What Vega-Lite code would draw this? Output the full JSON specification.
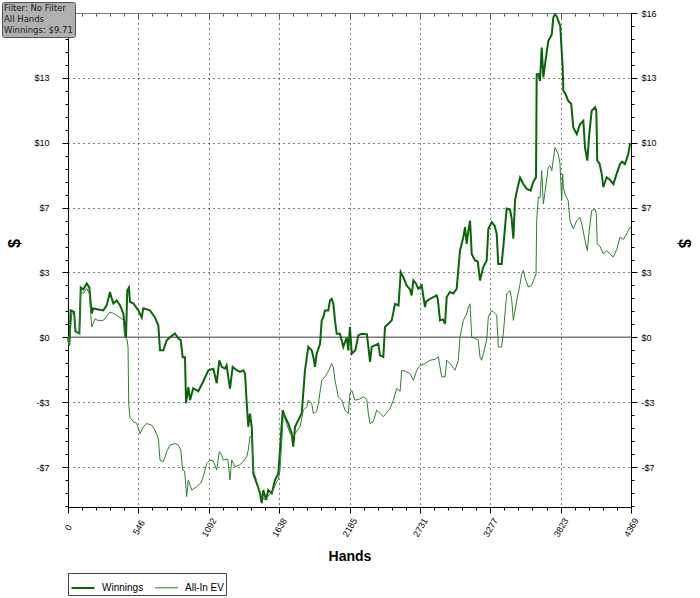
{
  "$schema": "https://vega.github.io/schema/vega-lite/v6.json",
  "width": 563,
  "height": 494,
  "autosize": {"type": "none"},
  "padding": {"left": 68, "top": 13, "right": 69, "bottom": 91},
  "background": "white",
  "config": {"view": {"stroke": "#000", "strokeWidth": 1}, "font": "Liberation Sans"},
  "resolve": {"axis": {"x": "independent", "y": "independent"}, "scale": {"x": "shared", "y": "shared"}},
  "layer": [
    {
      "data": {"values": [{"zero": 0, "start": 0, "end": 4369}]},
      "mark": {"type": "rule", "color": "#7a7a7a", "strokeWidth": 1.5},
      "encoding": {
        "x": {"field": "start", "type": "quantitative", "scale": {"domain": [0, 4369], "nice": false, "zero": false},
          "axis": {"orient": "top", "title": null, "labels": false, "grid": false,
            "values": [0,109.225,218.45,327.675,436.9,546.125,655.35,764.575,873.8,983.025,1092.25,1201.475,1310.7,1419.925,1529.15,1638.375,1747.6,1856.825,1966.05,2075.275,2184.5,2293.725,2402.95,2512.175,2621.4,2730.625,2839.85,2949.075,3058.3,3167.525,3276.75,3385.975,3495.2,3604.425,3713.65,3822.875,3932.1,4041.325,4150.55,4259.775,4369],
            "domainColor": "#777", "tickColor": "#555",
            "tickSize": {"condition": {"test": "abs(datum.value/546.125 - round(datum.value/546.125)) < 0.01", "value": -5}, "value": -3}}},
        "x2": {"field": "end"},
        "y": {"field": "zero", "type": "quantitative", "scale": {"domain": [-8.5, 16.25], "nice": false, "zero": false},
          "axis": {"orient": "right", "title": "$", "titleFontSize": 16, "titleFontWeight": "bold", "titleColor": "#000", "titleX": 44, "titleY": 230, "titleAngle": 90,
            "values": [-8.45,-7.8,-7.15,-6.5,-5.85,-5.2,-4.55,-3.9,-3.25,-2.6,-1.95,-1.3,-0.65,0,0.65,1.3,1.95,2.6,3.25,3.9,4.55,5.2,5.85,6.5,7.15,7.8,8.45,9.1,9.75,10.4,11.05,11.7,12.35,13,13.65,14.3,14.95,15.6,16.25],
            "labelExpr": "abs(datum.value/3.25 - round(datum.value/3.25)) < 0.01 ? (datum.value < -0.001 ? '-$' : '$') + round(abs(datum.value)) : ''",
            "labelFontSize": 9, "labelColor": "#000", "labelPadding": 4, "labelOverlap": false, "labelBound": false,
            "grid": false, "domainColor": "#000", "tickColor": "#000",
            "tickSize": {"condition": {"test": "abs(datum.value/3.25 - round(datum.value/3.25)) < 0.01", "value": 6}, "value": 3}}}
      }
    },
    {
      "data": {"values": [
        {"hand":0,"series":"Winnings","value":0.0},{"hand":10,"series":"Winnings","value":-0.4},{"hand":21,"series":"Winnings","value":1.35},{"hand":47,"series":"Winnings","value":1.27},{"hand":58,"series":"Winnings","value":0.3},{"hand":88,"series":"Winnings","value":0.2},{"hand":99,"series":"Winnings","value":2.5},{"hand":119,"series":"Winnings","value":2.4},{"hand":145,"series":"Winnings","value":2.7},{"hand":165,"series":"Winnings","value":2.5},{"hand":184,"series":"Winnings","value":1.2},{"hand":196,"series":"Winnings","value":1.45},{"hand":274,"series":"Winnings","value":1.35},{"hand":300,"series":"Winnings","value":1.6},{"hand":326,"series":"Winnings","value":2.27},{"hand":339,"series":"Winnings","value":1.95},{"hand":352,"series":"Winnings","value":1.7},{"hand":378,"series":"Winnings","value":1.85},{"hand":404,"series":"Winnings","value":1.6},{"hand":429,"series":"Winnings","value":1.2},{"hand":450,"series":"Winnings","value":0.02},{"hand":460,"series":"Winnings","value":2.35},{"hand":473,"series":"Winnings","value":2.5},{"hand":481,"series":"Winnings","value":1.77},{"hand":507,"series":"Winnings","value":1.7},{"hand":546,"series":"Winnings","value":1.35},{"hand":572,"series":"Winnings","value":1.0},{"hand":584,"series":"Winnings","value":1.45},{"hand":636,"series":"Winnings","value":1.35},{"hand":675,"series":"Winnings","value":1.0},{"hand":701,"series":"Winnings","value":0.6},{"hand":714,"series":"Winnings","value":-0.65},{"hand":740,"series":"Winnings","value":-0.65},{"hand":766,"series":"Winnings","value":-0.15},{"hand":791,"series":"Winnings","value":0.0},{"hand":830,"series":"Winnings","value":0.2},{"hand":856,"series":"Winnings","value":-0.05},{"hand":875,"series":"Winnings","value":-0.15},{"hand":890,"series":"Winnings","value":-1.0},{"hand":908,"series":"Winnings","value":-1.0},{"hand":916,"series":"Winnings","value":-3.3},{"hand":934,"series":"Winnings","value":-2.5},{"hand":947,"series":"Winnings","value":-3.15},{"hand":972,"series":"Winnings","value":-2.55},{"hand":1011,"series":"Winnings","value":-2.7},{"hand":1050,"series":"Winnings","value":-2.2},{"hand":1089,"series":"Winnings","value":-1.65},{"hand":1128,"series":"Winnings","value":-1.57},{"hand":1154,"series":"Winnings","value":-2.3},{"hand":1174,"series":"Winnings","value":-1.15},{"hand":1193,"series":"Winnings","value":-1.48},{"hand":1218,"series":"Winnings","value":-1.57},{"hand":1231,"series":"Winnings","value":-1.4},{"hand":1257,"series":"Winnings","value":-2.57},{"hand":1278,"series":"Winnings","value":-1.48},{"hand":1309,"series":"Winnings","value":-1.65},{"hand":1335,"series":"Winnings","value":-1.73},{"hand":1360,"series":"Winnings","value":-1.65},{"hand":1374,"series":"Winnings","value":-1.82},{"hand":1387,"series":"Winnings","value":-3.3},{"hand":1399,"series":"Winnings","value":-4.48},{"hand":1412,"series":"Winnings","value":-3.82},{"hand":1426,"series":"Winnings","value":-4.48},{"hand":1438,"series":"Winnings","value":-6.82},{"hand":1464,"series":"Winnings","value":-7.3},{"hand":1490,"series":"Winnings","value":-7.82},{"hand":1503,"series":"Winnings","value":-8.3},{"hand":1516,"series":"Winnings","value":-7.65},{"hand":1537,"series":"Winnings","value":-8.15},{"hand":1554,"series":"Winnings","value":-7.65},{"hand":1581,"series":"Winnings","value":-7.82},{"hand":1606,"series":"Winnings","value":-7.15},{"hand":1632,"series":"Winnings","value":-6.82},{"hand":1645,"series":"Winnings","value":-5.65},{"hand":1666,"series":"Winnings","value":-3.65},{"hand":1684,"series":"Winnings","value":-3.98},{"hand":1710,"series":"Winnings","value":-4.32},{"hand":1736,"series":"Winnings","value":-4.82},{"hand":1748,"series":"Winnings","value":-5.48},{"hand":1762,"series":"Winnings","value":-4.48},{"hand":1787,"series":"Winnings","value":-4.15},{"hand":1814,"series":"Winnings","value":-3.8},{"hand":1839,"series":"Winnings","value":-1.65},{"hand":1865,"series":"Winnings","value":-0.48},{"hand":1891,"series":"Winnings","value":-0.65},{"hand":1904,"series":"Winnings","value":-0.98},{"hand":1917,"series":"Winnings","value":-1.48},{"hand":1930,"series":"Winnings","value":-0.82},{"hand":1956,"series":"Winnings","value":-0.32},{"hand":1969,"series":"Winnings","value":0.85},{"hand":1981,"series":"Winnings","value":1.0},{"hand":1994,"series":"Winnings","value":1.35},{"hand":2020,"series":"Winnings","value":1.35},{"hand":2033,"series":"Winnings","value":1.85},{"hand":2046,"series":"Winnings","value":1.93},{"hand":2059,"series":"Winnings","value":1.68},{"hand":2072,"series":"Winnings","value":0.85},{"hand":2085,"series":"Winnings","value":0.18},{"hand":2110,"series":"Winnings","value":0.18},{"hand":2124,"series":"Winnings","value":-0.15},{"hand":2136,"series":"Winnings","value":-0.48},{"hand":2163,"series":"Winnings","value":0.0},{"hand":2175,"series":"Winnings","value":-0.65},{"hand":2188,"series":"Winnings","value":0.52},{"hand":2202,"series":"Winnings","value":-0.82},{"hand":2230,"series":"Winnings","value":-0.65},{"hand":2253,"series":"Winnings","value":0.1},{"hand":2279,"series":"Winnings","value":0.18},{"hand":2320,"series":"Winnings","value":0.15},{"hand":2344,"series":"Winnings","value":-1.23},{"hand":2357,"series":"Winnings","value":-0.48},{"hand":2408,"series":"Winnings","value":-0.32},{"hand":2421,"series":"Winnings","value":-0.9},{"hand":2447,"series":"Winnings","value":-0.98},{"hand":2460,"series":"Winnings","value":0.52},{"hand":2512,"series":"Winnings","value":0.85},{"hand":2538,"series":"Winnings","value":1.68},{"hand":2565,"series":"Winnings","value":1.6},{"hand":2582,"series":"Winnings","value":3.27},{"hand":2602,"series":"Winnings","value":3.02},{"hand":2628,"series":"Winnings","value":2.6},{"hand":2654,"series":"Winnings","value":2.4},{"hand":2667,"series":"Winnings","value":2.1},{"hand":2680,"series":"Winnings","value":2.85},{"hand":2700,"series":"Winnings","value":2.7},{"hand":2718,"series":"Winnings","value":2.43},{"hand":2745,"series":"Winnings","value":2.6},{"hand":2770,"series":"Winnings","value":1.52},{"hand":2780,"series":"Winnings","value":1.8},{"hand":2809,"series":"Winnings","value":1.93},{"hand":2861,"series":"Winnings","value":2.1},{"hand":2870,"series":"Winnings","value":1.9},{"hand":2887,"series":"Winnings","value":0.85},{"hand":2910,"series":"Winnings","value":0.9},{"hand":2926,"series":"Winnings","value":0.68},{"hand":2939,"series":"Winnings","value":2.02},{"hand":2964,"series":"Winnings","value":2.27},{"hand":2990,"series":"Winnings","value":2.2},{"hand":3016,"series":"Winnings","value":2.43},{"hand":3042,"series":"Winnings","value":4.35},{"hand":3068,"series":"Winnings","value":5.02},{"hand":3081,"series":"Winnings","value":5.52},{"hand":3094,"series":"Winnings","value":4.68},{"hand":3107,"series":"Winnings","value":5.35},{"hand":3120,"series":"Winnings","value":5.85},{"hand":3133,"series":"Winnings","value":4.18},{"hand":3158,"series":"Winnings","value":3.85},{"hand":3180,"series":"Winnings","value":3.8},{"hand":3197,"series":"Winnings","value":2.85},{"hand":3210,"series":"Winnings","value":3.2},{"hand":3223,"series":"Winnings","value":3.52},{"hand":3249,"series":"Winnings","value":3.85},{"hand":3262,"series":"Winnings","value":5.43},{"hand":3288,"series":"Winnings","value":5.77},{"hand":3310,"series":"Winnings","value":5.6},{"hand":3327,"series":"Winnings","value":5.18},{"hand":3339,"series":"Winnings","value":3.68},{"hand":3365,"series":"Winnings","value":3.68},{"hand":3378,"series":"Winnings","value":4.52},{"hand":3404,"series":"Winnings","value":6.45},{"hand":3430,"series":"Winnings","value":6.4},{"hand":3443,"series":"Winnings","value":5.95},{"hand":3456,"series":"Winnings","value":4.95},{"hand":3469,"series":"Winnings","value":6.85},{"hand":3482,"series":"Winnings","value":7.3},{"hand":3508,"series":"Winnings","value":8.0},{"hand":3534,"series":"Winnings","value":7.68},{"hand":3560,"series":"Winnings","value":7.43},{"hand":3590,"series":"Winnings","value":7.35},{"hand":3610,"series":"Winnings","value":7.77},{"hand":3632,"series":"Winnings","value":8.02},{"hand":3637,"series":"Winnings","value":13.18},{"hand":3650,"series":"Winnings","value":13.2},{"hand":3663,"series":"Winnings","value":12.85},{"hand":3676,"series":"Winnings","value":14.52},{"hand":3689,"series":"Winnings","value":13.02},{"hand":3700,"series":"Winnings","value":13.6},{"hand":3727,"series":"Winnings","value":14.85},{"hand":3754,"series":"Winnings","value":15.18},{"hand":3766,"series":"Winnings","value":16.02},{"hand":3779,"series":"Winnings","value":16.18},{"hand":3792,"series":"Winnings","value":16.1},{"hand":3805,"series":"Winnings","value":15.85},{"hand":3820,"series":"Winnings","value":15.6},{"hand":3831,"series":"Winnings","value":14.35},{"hand":3839,"series":"Winnings","value":13.52},{"hand":3844,"series":"Winnings","value":12.35},{"hand":3860,"series":"Winnings","value":12.2},{"hand":3882,"series":"Winnings","value":11.85},{"hand":3905,"series":"Winnings","value":11.7},{"hand":3921,"series":"Winnings","value":10.52},{"hand":3948,"series":"Winnings","value":10.18},{"hand":3973,"series":"Winnings","value":10.68},{"hand":3999,"series":"Winnings","value":10.85},{"hand":4012,"series":"Winnings","value":9.52},{"hand":4030,"series":"Winnings","value":8.85},{"hand":4045,"series":"Winnings","value":10.18},{"hand":4064,"series":"Winnings","value":11.35},{"hand":4090,"series":"Winnings","value":11.52},{"hand":4100,"series":"Winnings","value":11.35},{"hand":4107,"series":"Winnings","value":8.85},{"hand":4125,"series":"Winnings","value":8.7},{"hand":4142,"series":"Winnings","value":8.18},{"hand":4154,"series":"Winnings","value":7.52},{"hand":4180,"series":"Winnings","value":8.02},{"hand":4205,"series":"Winnings","value":7.9},{"hand":4232,"series":"Winnings","value":7.68},{"hand":4258,"series":"Winnings","value":8.2},{"hand":4284,"series":"Winnings","value":8.68},{"hand":4300,"series":"Winnings","value":8.8},{"hand":4322,"series":"Winnings","value":8.68},{"hand":4348,"series":"Winnings","value":9.18},{"hand":4361,"series":"Winnings","value":9.68},{"hand":4369,"series":"Winnings","value":9.71},
        {"hand":0,"series":"All-In EV","value":0.0},{"hand":10,"series":"All-In EV","value":-0.4},{"hand":29,"series":"All-In EV","value":1.2},{"hand":47,"series":"All-In EV","value":1.2},{"hand":62,"series":"All-In EV","value":0.3},{"hand":88,"series":"All-In EV","value":0.2},{"hand":99,"series":"All-In EV","value":2.3},{"hand":119,"series":"All-In EV","value":2.2},{"hand":145,"series":"All-In EV","value":2.45},{"hand":165,"series":"All-In EV","value":2.2},{"hand":184,"series":"All-In EV","value":0.52},{"hand":210,"series":"All-In EV","value":0.93},{"hand":230,"series":"All-In EV","value":0.85},{"hand":274,"series":"All-In EV","value":0.85},{"hand":326,"series":"All-In EV","value":1.27},{"hand":352,"series":"All-In EV","value":1.2},{"hand":378,"series":"All-In EV","value":1.1},{"hand":404,"series":"All-In EV","value":1.0},{"hand":430,"series":"All-In EV","value":0.85},{"hand":440,"series":"All-In EV","value":0.0},{"hand":458,"series":"All-In EV","value":-0.1},{"hand":466,"series":"All-In EV","value":-0.48},{"hand":471,"series":"All-In EV","value":-3.3},{"hand":481,"series":"All-In EV","value":-4.0},{"hand":507,"series":"All-In EV","value":-4.23},{"hand":532,"series":"All-In EV","value":-4.3},{"hand":559,"series":"All-In EV","value":-4.82},{"hand":584,"series":"All-In EV","value":-4.48},{"hand":610,"series":"All-In EV","value":-4.32},{"hand":650,"series":"All-In EV","value":-4.4},{"hand":675,"series":"All-In EV","value":-4.65},{"hand":701,"series":"All-In EV","value":-5.07},{"hand":714,"series":"All-In EV","value":-6.15},{"hand":740,"series":"All-In EV","value":-6.23},{"hand":766,"series":"All-In EV","value":-5.73},{"hand":791,"series":"All-In EV","value":-5.4},{"hand":830,"series":"All-In EV","value":-5.32},{"hand":856,"series":"All-In EV","value":-5.4},{"hand":875,"series":"All-In EV","value":-5.65},{"hand":890,"series":"All-In EV","value":-6.65},{"hand":905,"series":"All-In EV","value":-6.7},{"hand":921,"series":"All-In EV","value":-7.98},{"hand":934,"series":"All-In EV","value":-7.15},{"hand":960,"series":"All-In EV","value":-7.65},{"hand":998,"series":"All-In EV","value":-7.48},{"hand":1030,"series":"All-In EV","value":-7.3},{"hand":1050,"series":"All-In EV","value":-6.98},{"hand":1076,"series":"All-In EV","value":-6.32},{"hand":1102,"series":"All-In EV","value":-6.15},{"hand":1128,"series":"All-In EV","value":-6.2},{"hand":1154,"series":"All-In EV","value":-6.65},{"hand":1174,"series":"All-In EV","value":-5.73},{"hand":1193,"series":"All-In EV","value":-5.9},{"hand":1205,"series":"All-In EV","value":-6.15},{"hand":1240,"series":"All-In EV","value":-6.1},{"hand":1257,"series":"All-In EV","value":-7.15},{"hand":1270,"series":"All-In EV","value":-6.15},{"hand":1296,"series":"All-In EV","value":-6.48},{"hand":1330,"series":"All-In EV","value":-6.4},{"hand":1360,"series":"All-In EV","value":-6.23},{"hand":1387,"series":"All-In EV","value":-5.98},{"hand":1399,"series":"All-In EV","value":-5.65},{"hand":1412,"series":"All-In EV","value":-4.98},{"hand":1426,"series":"All-In EV","value":-5.0},{"hand":1438,"series":"All-In EV","value":-6.65},{"hand":1477,"series":"All-In EV","value":-7.48},{"hand":1503,"series":"All-In EV","value":-7.98},{"hand":1529,"series":"All-In EV","value":-8.15},{"hand":1560,"series":"All-In EV","value":-7.9},{"hand":1593,"series":"All-In EV","value":-7.65},{"hand":1619,"series":"All-In EV","value":-7.23},{"hand":1632,"series":"All-In EV","value":-7.1},{"hand":1645,"series":"All-In EV","value":-6.65},{"hand":1658,"series":"All-In EV","value":-5.32},{"hand":1671,"series":"All-In EV","value":-3.82},{"hand":1697,"series":"All-In EV","value":-4.32},{"hand":1723,"series":"All-In EV","value":-4.82},{"hand":1748,"series":"All-In EV","value":-4.98},{"hand":1775,"series":"All-In EV","value":-4.7},{"hand":1800,"series":"All-In EV","value":-4.5},{"hand":1826,"series":"All-In EV","value":-3.65},{"hand":1852,"series":"All-In EV","value":-3.48},{"hand":1865,"series":"All-In EV","value":-3.15},{"hand":1891,"series":"All-In EV","value":-3.3},{"hand":1904,"series":"All-In EV","value":-3.82},{"hand":1930,"series":"All-In EV","value":-3.7},{"hand":1943,"series":"All-In EV","value":-3.32},{"hand":1969,"series":"All-In EV","value":-2.15},{"hand":1994,"series":"All-In EV","value":-1.98},{"hand":2020,"series":"All-In EV","value":-1.7},{"hand":2046,"series":"All-In EV","value":-1.32},{"hand":2059,"series":"All-In EV","value":-1.5},{"hand":2072,"series":"All-In EV","value":-2.15},{"hand":2098,"series":"All-In EV","value":-2.98},{"hand":2124,"series":"All-In EV","value":-3.15},{"hand":2150,"series":"All-In EV","value":-3.65},{"hand":2175,"series":"All-In EV","value":-3.82},{"hand":2188,"series":"All-In EV","value":-2.82},{"hand":2202,"series":"All-In EV","value":-2.65},{"hand":2227,"series":"All-In EV","value":-3.15},{"hand":2260,"series":"All-In EV","value":-3.1},{"hand":2292,"series":"All-In EV","value":-2.98},{"hand":2318,"series":"All-In EV","value":-3.1},{"hand":2331,"series":"All-In EV","value":-3.82},{"hand":2344,"series":"All-In EV","value":-4.32},{"hand":2370,"series":"All-In EV","value":-4.2},{"hand":2395,"series":"All-In EV","value":-3.65},{"hand":2421,"series":"All-In EV","value":-3.8},{"hand":2447,"series":"All-In EV","value":-3.98},{"hand":2470,"series":"All-In EV","value":-3.8},{"hand":2499,"series":"All-In EV","value":-3.57},{"hand":2525,"series":"All-In EV","value":-3.15},{"hand":2551,"series":"All-In EV","value":-2.57},{"hand":2577,"series":"All-In EV","value":-2.7},{"hand":2590,"series":"All-In EV","value":-1.65},{"hand":2620,"series":"All-In EV","value":-1.7},{"hand":2654,"series":"All-In EV","value":-1.82},{"hand":2680,"series":"All-In EV","value":-2.15},{"hand":2706,"series":"All-In EV","value":-1.65},{"hand":2732,"series":"All-In EV","value":-1.4},{"hand":2770,"series":"All-In EV","value":-1.32},{"hand":2809,"series":"All-In EV","value":-1.15},{"hand":2848,"series":"All-In EV","value":-1.1},{"hand":2874,"series":"All-In EV","value":-0.98},{"hand":2900,"series":"All-In EV","value":-1.98},{"hand":2926,"series":"All-In EV","value":-1.98},{"hand":2939,"series":"All-In EV","value":-1.15},{"hand":2964,"series":"All-In EV","value":-1.3},{"hand":3003,"series":"All-In EV","value":-1.65},{"hand":3029,"series":"All-In EV","value":-1.15},{"hand":3042,"series":"All-In EV","value":0.0},{"hand":3068,"series":"All-In EV","value":0.85},{"hand":3094,"series":"All-In EV","value":1.18},{"hand":3107,"series":"All-In EV","value":1.52},{"hand":3120,"series":"All-In EV","value":1.68},{"hand":3133,"series":"All-In EV","value":0.0},{"hand":3158,"series":"All-In EV","value":-0.05},{"hand":3184,"series":"All-In EV","value":-0.15},{"hand":3197,"series":"All-In EV","value":-0.98},{"hand":3210,"series":"All-In EV","value":-1.15},{"hand":3236,"series":"All-In EV","value":-0.48},{"hand":3249,"series":"All-In EV","value":-0.15},{"hand":3262,"series":"All-In EV","value":1.02},{"hand":3288,"series":"All-In EV","value":1.35},{"hand":3314,"series":"All-In EV","value":1.2},{"hand":3327,"series":"All-In EV","value":1.1},{"hand":3339,"series":"All-In EV","value":-0.48},{"hand":3365,"series":"All-In EV","value":-0.48},{"hand":3378,"series":"All-In EV","value":0.18},{"hand":3404,"series":"All-In EV","value":2.18},{"hand":3430,"series":"All-In EV","value":2.35},{"hand":3443,"series":"All-In EV","value":1.9},{"hand":3456,"series":"All-In EV","value":0.85},{"hand":3482,"series":"All-In EV","value":1.85},{"hand":3508,"series":"All-In EV","value":2.68},{"hand":3521,"series":"All-In EV","value":3.18},{"hand":3534,"series":"All-In EV","value":3.35},{"hand":3546,"series":"All-In EV","value":3.0},{"hand":3572,"series":"All-In EV","value":2.52},{"hand":3598,"series":"All-In EV","value":2.6},{"hand":3632,"series":"All-In EV","value":3.18},{"hand":3637,"series":"All-In EV","value":5.85},{"hand":3650,"series":"All-In EV","value":7.02},{"hand":3663,"series":"All-In EV","value":7.0},{"hand":3676,"series":"All-In EV","value":8.35},{"hand":3689,"series":"All-In EV","value":6.68},{"hand":3700,"series":"All-In EV","value":7.2},{"hand":3727,"series":"All-In EV","value":8.52},{"hand":3740,"series":"All-In EV","value":8.6},{"hand":3754,"series":"All-In EV","value":8.35},{"hand":3779,"series":"All-In EV","value":9.52},{"hand":3805,"series":"All-In EV","value":9.18},{"hand":3818,"series":"All-In EV","value":8.7},{"hand":3831,"series":"All-In EV","value":6.85},{"hand":3839,"series":"All-In EV","value":8.18},{"hand":3844,"series":"All-In EV","value":7.52},{"hand":3857,"series":"All-In EV","value":7.18},{"hand":3882,"series":"All-In EV","value":6.85},{"hand":3895,"series":"All-In EV","value":5.85},{"hand":3921,"series":"All-In EV","value":5.43},{"hand":3948,"series":"All-In EV","value":5.85},{"hand":3973,"series":"All-In EV","value":6.02},{"hand":3990,"series":"All-In EV","value":5.6},{"hand":4012,"series":"All-In EV","value":4.85},{"hand":4030,"series":"All-In EV","value":4.35},{"hand":4045,"series":"All-In EV","value":5.35},{"hand":4064,"series":"All-In EV","value":6.35},{"hand":4090,"series":"All-In EV","value":6.43},{"hand":4100,"series":"All-In EV","value":6.2},{"hand":4107,"series":"All-In EV","value":4.68},{"hand":4125,"series":"All-In EV","value":4.6},{"hand":4154,"series":"All-In EV","value":4.18},{"hand":4180,"series":"All-In EV","value":4.35},{"hand":4205,"series":"All-In EV","value":4.18},{"hand":4232,"series":"All-In EV","value":4.02},{"hand":4258,"series":"All-In EV","value":4.4},{"hand":4284,"series":"All-In EV","value":5.02},{"hand":4310,"series":"All-In EV","value":4.9},{"hand":4335,"series":"All-In EV","value":5.18},{"hand":4361,"series":"All-In EV","value":5.52},{"hand":4369,"series":"All-In EV","value":5.45}
      ]},
      "mark": {"type": "line", "interpolate": "linear"},
      "encoding": {
        "x": {"field": "hand", "type": "quantitative",
          "axis": {"orient": "bottom", "title": "Hands", "titleFontSize": 14, "titleFontWeight": "bold", "titleColor": "#000", "titleY": 49, "titleBaseline": "middle",
            "values": [0,109.225,218.45,327.675,436.9,546.125,655.35,764.575,873.8,983.025,1092.25,1201.475,1310.7,1419.925,1529.15,1638.375,1747.6,1856.825,1966.05,2075.275,2184.5,2293.725,2402.95,2512.175,2621.4,2730.625,2839.85,2949.075,3058.3,3167.525,3276.75,3385.975,3495.2,3604.425,3713.65,3822.875,3932.1,4041.325,4150.55,4259.775,4369],
            "labelExpr": "abs(datum.value/546.125 - round(datum.value/546.125)) < 0.01 ? '' + round(datum.value) : ''",
            "labelAngle": -60, "labelAlign": "center", "labelBaseline": "middle", "labelPadding": 14, "labelFontSize": 9, "labelColor": "#000", "labelOverlap": false, "labelBound": false, "labelFlush": false,
            "domainColor": "#000", "tickColor": "#000",
            "tickSize": {"condition": {"test": "abs(datum.value/546.125 - round(datum.value/546.125)) < 0.01", "value": 6}, "value": 3},
            "grid": true, "gridColor": "#000", "gridDash": [1, 4],
            "gridOpacity": {"condition": {"test": "abs(datum.value/546.125 - round(datum.value/546.125)) < 0.01 && datum.value > 1 && datum.value < 4368", "value": 1}, "value": 0}}},
        "y": {"field": "value", "type": "quantitative",
          "axis": {"orient": "left", "title": "$", "titleFontSize": 16, "titleFontWeight": "bold", "titleColor": "#000", "titleX": -46, "titleY": 230,
            "values": [-8.45,-7.8,-7.15,-6.5,-5.85,-5.2,-4.55,-3.9,-3.25,-2.6,-1.95,-1.3,-0.65,0,0.65,1.3,1.95,2.6,3.25,3.9,4.55,5.2,5.85,6.5,7.15,7.8,8.45,9.1,9.75,10.4,11.05,11.7,12.35,13,13.65,14.3,14.95,15.6,16.25],
            "labelExpr": "abs(datum.value/3.25 - round(datum.value/3.25)) < 0.01 && datum.value < 16 ? (datum.value < -0.001 ? '-$' : '$') + round(abs(datum.value)) : ''",
            "labelFontSize": 9, "labelColor": "#000", "labelPadding": 13, "labelOverlap": false, "labelBound": false,
            "domainColor": "#000", "tickColor": "#000",
            "tickSize": {"condition": {"test": "abs(datum.value/3.25 - round(datum.value/3.25)) < 0.01", "value": 6}, "value": 3},
            "grid": true, "gridColor": "#000", "gridDash": [1, 4],
            "gridOpacity": {"condition": {"test": "abs(datum.value/3.25 - round(datum.value/3.25)) < 0.01 && abs(datum.value) > 0.01 && datum.value < 16", "value": 1}, "value": 0}}},
        "color": {"field": "series", "type": "nominal",
          "scale": {"domain": ["Winnings", "All-In EV"], "range": ["#0a650a", "#2e7f2e"]},
          "legend": {"orient": "none", "legendX": 0, "legendY": 560, "direction": "horizontal", "title": null,
            "symbolType": "stroke", "symbolSize": 530, "labelFontSize": 10, "labelColor": "#000",
            "padding": 2, "strokeColor": "#444", "fillColor": "#fff", "columnPadding": 8, "labelOffset": 6}},
        "strokeWidth": {"field": "series", "type": "nominal",
          "scale": {"domain": ["Winnings", "All-In EV"], "range": [2, 1]}}
      }
    },
    {
      "data": {"values": [{"info": "summary"}]},
      "mark": {"type": "point", "opacity": 0},
      "encoding": {
        "fill": {"field": "info", "type": "nominal",
          "scale": {"range": ["#b0b0b0"]},
          "legend": {"orient": "none", "legendX": -66, "legendY": -11,
            "title": ["Filter: No Filter", "All Hands", "Winnings: $9.71"],
            "titleFontSize": 8.5, "titleFont": "DejaVu Sans", "titleFontWeight": "normal", "titleColor": "#1a1a1a",
            "titleAlign": "left", "titleAnchor": "start", "titleBaseline": "top", "titleLineHeight": 11, "titlePadding": 0,
            "labelExpr": "''", "labelFontSize": 1, "labelOffset": 0,
            "symbolType": "square", "symbolSize": 0, "symbolOpacity": 0, "symbolStrokeWidth": 0,
            "padding": 2, "rowPadding": 0,
            "fillColor": "#b0b0b0", "strokeColor": "#555", "cornerRadius": 2}}
      }
    }
  ]
}
